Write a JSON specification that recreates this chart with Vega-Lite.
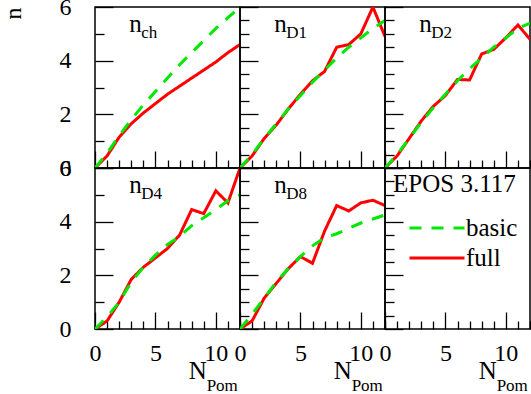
{
  "$schema": "https://vega.github.io/schema/vega-lite/v6.json",
  "padding": {"left": 0, "top": -6, "right": 0, "bottom": 0},
  "bounds": "flush",
  "datasets": {
    "curves": [
      {"panel":"ch","model":"full","x":0,"n":0},{"panel":"ch","model":"full","x":1,"n":0.45},{"panel":"ch","model":"full","x":2,"n":1.15},{"panel":"ch","model":"full","x":3,"n":1.65},{"panel":"ch","model":"full","x":4,"n":2.05},{"panel":"ch","model":"full","x":5,"n":2.4},{"panel":"ch","model":"full","x":6,"n":2.75},{"panel":"ch","model":"full","x":7,"n":3.05},{"panel":"ch","model":"full","x":8,"n":3.35},{"panel":"ch","model":"full","x":9,"n":3.65},{"panel":"ch","model":"full","x":10,"n":3.95},{"panel":"ch","model":"full","x":11,"n":4.3},{"panel":"ch","model":"full","x":12,"n":4.6},
      {"panel":"ch","model":"basic","x":0,"n":0},{"panel":"ch","model":"basic","x":1,"n":0.55},{"panel":"ch","model":"basic","x":2,"n":1.2},{"panel":"ch","model":"basic","x":3,"n":1.8},{"panel":"ch","model":"basic","x":4,"n":2.35},{"panel":"ch","model":"basic","x":5,"n":2.85},{"panel":"ch","model":"basic","x":6,"n":3.35},{"panel":"ch","model":"basic","x":7,"n":3.85},{"panel":"ch","model":"basic","x":8,"n":4.3},{"panel":"ch","model":"basic","x":9,"n":4.75},{"panel":"ch","model":"basic","x":10,"n":5.2},{"panel":"ch","model":"basic","x":11,"n":5.6},{"panel":"ch","model":"basic","x":12,"n":6.0},
      {"panel":"D1","model":"full","x":0,"n":0},{"panel":"D1","model":"full","x":1,"n":0.45},{"panel":"D1","model":"full","x":2,"n":1.1},{"panel":"D1","model":"full","x":3,"n":1.6},{"panel":"D1","model":"full","x":4,"n":2.2},{"panel":"D1","model":"full","x":5,"n":2.75},{"panel":"D1","model":"full","x":6,"n":3.25},{"panel":"D1","model":"full","x":7,"n":3.6},{"panel":"D1","model":"full","x":8,"n":4.5},{"panel":"D1","model":"full","x":9,"n":4.6},{"panel":"D1","model":"full","x":10,"n":5.0},{"panel":"D1","model":"full","x":11,"n":6.0},{"panel":"D1","model":"full","x":12,"n":4.9},
      {"panel":"D1","model":"basic","x":0,"n":0},{"panel":"D1","model":"basic","x":1,"n":0.5},{"panel":"D1","model":"basic","x":2,"n":1.1},{"panel":"D1","model":"basic","x":3,"n":1.65},{"panel":"D1","model":"basic","x":4,"n":2.2},{"panel":"D1","model":"basic","x":5,"n":2.7},{"panel":"D1","model":"basic","x":6,"n":3.2},{"panel":"D1","model":"basic","x":7,"n":3.65},{"panel":"D1","model":"basic","x":8,"n":4.1},{"panel":"D1","model":"basic","x":9,"n":4.5},{"panel":"D1","model":"basic","x":10,"n":4.85},{"panel":"D1","model":"basic","x":11,"n":5.2},{"panel":"D1","model":"basic","x":12,"n":5.5},
      {"panel":"D2","model":"full","x":0,"n":0},{"panel":"D2","model":"full","x":1,"n":0.45},{"panel":"D2","model":"full","x":2,"n":1.1},{"panel":"D2","model":"full","x":3,"n":1.75},{"panel":"D2","model":"full","x":4,"n":2.3},{"panel":"D2","model":"full","x":5,"n":2.7},{"panel":"D2","model":"full","x":6,"n":3.3},{"panel":"D2","model":"full","x":7,"n":3.28},{"panel":"D2","model":"full","x":8,"n":4.25},{"panel":"D2","model":"full","x":9,"n":4.42},{"panel":"D2","model":"full","x":10,"n":4.85},{"panel":"D2","model":"full","x":11,"n":5.33},{"panel":"D2","model":"full","x":12,"n":4.8},
      {"panel":"D2","model":"basic","x":0,"n":0},{"panel":"D2","model":"basic","x":1,"n":0.5},{"panel":"D2","model":"basic","x":2,"n":1.1},{"panel":"D2","model":"basic","x":3,"n":1.7},{"panel":"D2","model":"basic","x":4,"n":2.25},{"panel":"D2","model":"basic","x":5,"n":2.75},{"panel":"D2","model":"basic","x":6,"n":3.25},{"panel":"D2","model":"basic","x":7,"n":3.7},{"panel":"D2","model":"basic","x":8,"n":4.1},{"panel":"D2","model":"basic","x":9,"n":4.5},{"panel":"D2","model":"basic","x":10,"n":4.85},{"panel":"D2","model":"basic","x":11,"n":5.2},{"panel":"D2","model":"basic","x":12,"n":5.4},
      {"panel":"D4","model":"full","x":0,"n":0},{"panel":"D4","model":"full","x":1,"n":0.3},{"panel":"D4","model":"full","x":2,"n":1.0},{"panel":"D4","model":"full","x":3,"n":1.85},{"panel":"D4","model":"full","x":4,"n":2.3},{"panel":"D4","model":"full","x":5,"n":2.65},{"panel":"D4","model":"full","x":6,"n":3.0},{"panel":"D4","model":"full","x":7,"n":3.5},{"panel":"D4","model":"full","x":8,"n":4.45},{"panel":"D4","model":"full","x":9,"n":4.3},{"panel":"D4","model":"full","x":10,"n":5.15},{"panel":"D4","model":"full","x":11,"n":4.7},{"panel":"D4","model":"full","x":12,"n":6.0},
      {"panel":"D4","model":"basic","x":0,"n":0},{"panel":"D4","model":"basic","x":1,"n":0.45},{"panel":"D4","model":"basic","x":2,"n":1.0},{"panel":"D4","model":"basic","x":3,"n":1.75},{"panel":"D4","model":"basic","x":4,"n":2.3},{"panel":"D4","model":"basic","x":5,"n":2.75},{"panel":"D4","model":"basic","x":6,"n":3.15},{"panel":"D4","model":"basic","x":7,"n":3.45},{"panel":"D4","model":"basic","x":8,"n":3.85},{"panel":"D4","model":"basic","x":9,"n":4.15},{"panel":"D4","model":"basic","x":10,"n":4.45},{"panel":"D4","model":"basic","x":11,"n":4.78},{"panel":"D4","model":"basic","x":12,"n":5.0},
      {"panel":"D8","model":"full","x":0,"n":0},{"panel":"D8","model":"full","x":1,"n":0.3},{"panel":"D8","model":"full","x":2,"n":1.15},{"panel":"D8","model":"full","x":3,"n":1.7},{"panel":"D8","model":"full","x":4,"n":2.25},{"panel":"D8","model":"full","x":5,"n":2.7},{"panel":"D8","model":"full","x":6,"n":2.45},{"panel":"D8","model":"full","x":7,"n":3.65},{"panel":"D8","model":"full","x":8,"n":4.6},{"panel":"D8","model":"full","x":9,"n":4.4},{"panel":"D8","model":"full","x":10,"n":4.7},{"panel":"D8","model":"full","x":11,"n":4.8},{"panel":"D8","model":"full","x":12,"n":4.6},
      {"panel":"D8","model":"basic","x":0,"n":0},{"panel":"D8","model":"basic","x":1,"n":0.55},{"panel":"D8","model":"basic","x":2,"n":1.15},{"panel":"D8","model":"basic","x":3,"n":1.75},{"panel":"D8","model":"basic","x":4,"n":2.25},{"panel":"D8","model":"basic","x":5,"n":2.7},{"panel":"D8","model":"basic","x":6,"n":3.1},{"panel":"D8","model":"basic","x":7,"n":3.4},{"panel":"D8","model":"basic","x":8,"n":3.55},{"panel":"D8","model":"basic","x":9,"n":3.75},{"panel":"D8","model":"basic","x":10,"n":3.95},{"panel":"D8","model":"basic","x":11,"n":4.1},{"panel":"D8","model":"basic","x":12,"n":4.25}
    ],
    "labels": [
      {"panel":"ch","main":"n","sub":"ch"},
      {"panel":"D1","main":"n","sub":"D1"},
      {"panel":"D2","main":"n","sub":"D2"},
      {"panel":"D4","main":"n","sub":"D4"},
      {"panel":"D8","main":"n","sub":"D8"}
    ],
    "xtitle": [{"main":"N","sub":"Pom"}]
  },
  "columns": 3,
  "spacing": 0,
  "concat": [
    {
      "width": 145, "height": 161,
      "resolve": {"axis": {"x": "independent", "y": "independent"}},
      "layer": [
        {"data": {"name": "curves"}, "transform": [{"filter": "datum.panel === 'ch'"}],
         "mark": {"type": "line", "strokeWidth": 3, "clip": true},
         "encoding": {
           "x": {"field": "x", "type": "quantitative", "scale": {"domain": [0, 12]}, "axis": {"title": null, "labels": false, "domain": false, "grid": false, "values": [0,1,2,3,4,5,6,7,8,9,10,11,12], "tickColor": "black", "tickWidth": 1.3, "tickSize": {"condition": {"test": "datum.value % 5 === 0", "value": -17}, "value": -8}}},
           "y": {"field": "n", "type": "quantitative", "scale": {"domain": [0, 6]}, "axis": {"title": "n", "titleFont": "Liberation Serif", "titleFontSize": 24, "titleFontWeight": "normal", "titleColor": "black", "titleAnchor": "end", "titlePadding": 34, "domain": false, "grid": false, "values": [0,0.5,1,1.5,2,2.5,3,3.5,4,4.5,5,5.5,6], "format": "d", "tickColor": "black", "tickWidth": 1.3, "tickSize": {"condition": {"test": "datum.value % 2 === 0", "value": -18}, "value": -9}, "labelExpr": "datum.value % 2 === 0 ? datum.label : ''", "labelFont": "Liberation Serif", "labelFontSize": 24, "labelColor": "black", "labelPadding": 42, "labelOverlap": false, "labelFlush": false}},
           "color": {"field": "model", "type": "nominal", "title": "EPOS 3.117", "scale": {"domain": ["basic", "full"], "range": ["#00e800", "#ff0000"]}},
           "strokeDash": {"field": "model", "type": "nominal", "title": "EPOS 3.117", "scale": {"domain": ["basic", "full"], "range": [[12, 10], [1, 0]]}}
         }},
        {"data": {"name": "labels"}, "transform": [{"filter": "datum.panel === 'ch'"}],
         "mark": {"type": "text", "align": "left", "baseline": "alphabetic", "font": "Liberation Serif", "fontSize": 25, "color": "black"},
         "encoding": {"x": {"datum": 2.83, "axis": null}, "y": {"datum": 5.05, "axis": null}, "text": {"field": "main"}}},
        {"data": {"name": "labels"}, "transform": [{"filter": "datum.panel === 'ch'"}],
         "mark": {"type": "text", "align": "left", "baseline": "alphabetic", "font": "Liberation Serif", "fontSize": 17, "color": "black", "dx": 12, "dy": 6},
         "encoding": {"x": {"datum": 2.83, "axis": null}, "y": {"datum": 5.05, "axis": null}, "text": {"field": "sub"}}}
      ]
    },
    {
      "width": 145, "height": 161,
      "resolve": {"axis": {"x": "independent", "y": "independent"}},
      "layer": [
        {"data": {"name": "curves"}, "transform": [{"filter": "datum.panel === 'D1'"}],
         "mark": {"type": "line", "strokeWidth": 3, "clip": true},
         "encoding": {
           "x": {"field": "x", "type": "quantitative", "scale": {"domain": [0, 12]}, "axis": {"title": null, "labels": false, "domain": false, "grid": false, "values": [0,1,2,3,4,5,6,7,8,9,10,11,12], "tickColor": "black", "tickWidth": 1.3, "tickSize": {"condition": {"test": "datum.value % 5 === 0", "value": -17}, "value": -8}}},
           "y": {"field": "n", "type": "quantitative", "scale": {"domain": [0, 6]}, "axis": {"title": null, "labels": false, "domain": false, "grid": false, "values": [0,0.5,1,1.5,2,2.5,3,3.5,4,4.5,5,5.5,6], "tickColor": "black", "tickWidth": 1.3, "tickSize": {"condition": {"test": "datum.value % 2 === 0", "value": -18}, "value": -9}}},
           "color": {"field": "model", "type": "nominal", "title": "EPOS 3.117", "scale": {"domain": ["basic", "full"], "range": ["#00e800", "#ff0000"]}},
           "strokeDash": {"field": "model", "type": "nominal", "title": "EPOS 3.117", "scale": {"domain": ["basic", "full"], "range": [[12, 10], [1, 0]]}}
         }},
        {"data": {"name": "labels"}, "transform": [{"filter": "datum.panel === 'D1'"}],
         "mark": {"type": "text", "align": "left", "baseline": "alphabetic", "font": "Liberation Serif", "fontSize": 25, "color": "black"},
         "encoding": {"x": {"datum": 2.83, "axis": null}, "y": {"datum": 5.05, "axis": null}, "text": {"field": "main"}}},
        {"data": {"name": "labels"}, "transform": [{"filter": "datum.panel === 'D1'"}],
         "mark": {"type": "text", "align": "left", "baseline": "alphabetic", "font": "Liberation Serif", "fontSize": 17, "color": "black", "dx": 12, "dy": 6},
         "encoding": {"x": {"datum": 2.83, "axis": null}, "y": {"datum": 5.05, "axis": null}, "text": {"field": "sub"}}}
      ]
    },
    {
      "width": 145, "height": 161,
      "resolve": {"axis": {"x": "independent", "y": "independent"}},
      "layer": [
        {"data": {"name": "curves"}, "transform": [{"filter": "datum.panel === 'D2'"}],
         "mark": {"type": "line", "strokeWidth": 3, "clip": true},
         "encoding": {
           "x": {"field": "x", "type": "quantitative", "scale": {"domain": [0, 12]}, "axis": {"title": null, "labels": false, "domain": false, "grid": false, "values": [0,1,2,3,4,5,6,7,8,9,10,11,12], "tickColor": "black", "tickWidth": 1.3, "tickSize": {"condition": {"test": "datum.value % 5 === 0", "value": -17}, "value": -8}}},
           "y": {"field": "n", "type": "quantitative", "scale": {"domain": [0, 6]}, "axis": {"title": null, "labels": false, "domain": false, "grid": false, "values": [0,0.5,1,1.5,2,2.5,3,3.5,4,4.5,5,5.5,6], "tickColor": "black", "tickWidth": 1.3, "tickSize": {"condition": {"test": "datum.value % 2 === 0", "value": -18}, "value": -9}}},
           "color": {"field": "model", "type": "nominal", "title": "EPOS 3.117", "scale": {"domain": ["basic", "full"], "range": ["#00e800", "#ff0000"]}},
           "strokeDash": {"field": "model", "type": "nominal", "title": "EPOS 3.117", "scale": {"domain": ["basic", "full"], "range": [[12, 10], [1, 0]]}}
         }},
        {"data": {"name": "labels"}, "transform": [{"filter": "datum.panel === 'D2'"}],
         "mark": {"type": "text", "align": "left", "baseline": "alphabetic", "font": "Liberation Serif", "fontSize": 25, "color": "black"},
         "encoding": {"x": {"datum": 2.83, "axis": null}, "y": {"datum": 5.05, "axis": null}, "text": {"field": "main"}}},
        {"data": {"name": "labels"}, "transform": [{"filter": "datum.panel === 'D2'"}],
         "mark": {"type": "text", "align": "left", "baseline": "alphabetic", "font": "Liberation Serif", "fontSize": 17, "color": "black", "dx": 12, "dy": 6},
         "encoding": {"x": {"datum": 2.83, "axis": null}, "y": {"datum": 5.05, "axis": null}, "text": {"field": "sub"}}}
      ]
    },
    {
      "width": 145, "height": 161,
      "resolve": {"axis": {"x": "independent", "y": "independent"}},
      "layer": [
        {"data": {"name": "curves"}, "transform": [{"filter": "datum.panel === 'D4'"}],
         "mark": {"type": "line", "strokeWidth": 3, "clip": true},
         "encoding": {
           "x": {"field": "x", "type": "quantitative", "scale": {"domain": [0, 12]}, "axis": {"title": null, "domain": false, "grid": false, "values": [0,1,2,3,4,5,6,7,8,9,10,11,12], "format": "d", "tickColor": "black", "tickWidth": 1.3, "tickSize": {"condition": {"test": "datum.value % 5 === 0", "value": -17}, "value": -8}, "labelExpr": "datum.value % 5 === 0 ? datum.label : ''", "labelFont": "Liberation Serif", "labelFontSize": 24, "labelColor": "black", "labelPadding": 29, "labelOverlap": false, "labelFlush": false}},
           "y": {"field": "n", "type": "quantitative", "scale": {"domain": [0, 6]}, "axis": {"title": null, "domain": false, "grid": false, "values": [0,0.5,1,1.5,2,2.5,3,3.5,4,4.5,5,5.5,6], "format": "d", "tickColor": "black", "tickWidth": 1.3, "tickSize": {"condition": {"test": "datum.value % 2 === 0", "value": -18}, "value": -9}, "labelExpr": "datum.value % 2 === 0 ? datum.label : ''", "labelFont": "Liberation Serif", "labelFontSize": 24, "labelColor": "black", "labelPadding": 42, "labelOverlap": false, "labelFlush": false}},
           "color": {"field": "model", "type": "nominal", "title": "EPOS 3.117", "scale": {"domain": ["basic", "full"], "range": ["#00e800", "#ff0000"]}},
           "strokeDash": {"field": "model", "type": "nominal", "title": "EPOS 3.117", "scale": {"domain": ["basic", "full"], "range": [[12, 10], [1, 0]]}}
         }},
        {"data": {"name": "labels"}, "transform": [{"filter": "datum.panel === 'D4'"}],
         "mark": {"type": "text", "align": "left", "baseline": "alphabetic", "font": "Liberation Serif", "fontSize": 25, "color": "black"},
         "encoding": {"x": {"datum": 2.83, "axis": null}, "y": {"datum": 5.05, "axis": null}, "text": {"field": "main"}}},
        {"data": {"name": "labels"}, "transform": [{"filter": "datum.panel === 'D4'"}],
         "mark": {"type": "text", "align": "left", "baseline": "alphabetic", "font": "Liberation Serif", "fontSize": 17, "color": "black", "dx": 12, "dy": 6},
         "encoding": {"x": {"datum": 2.83, "axis": null}, "y": {"datum": 5.05, "axis": null}, "text": {"field": "sub"}}},
        {"data": {"name": "xtitle"},
         "mark": {"type": "text", "align": "left", "baseline": "alphabetic", "font": "Liberation Serif", "fontSize": 25, "color": "black"},
         "encoding": {"x": {"datum": 7.75, "axis": null}, "y": {"datum": -1.86, "axis": null}, "text": {"field": "main"}}},
        {"data": {"name": "xtitle"},
         "mark": {"type": "text", "align": "left", "baseline": "alphabetic", "font": "Liberation Serif", "fontSize": 17, "color": "black", "dx": 18, "dy": 12},
         "encoding": {"x": {"datum": 7.75, "axis": null}, "y": {"datum": -1.86, "axis": null}, "text": {"field": "sub"}}}
      ]
    },
    {
      "width": 145, "height": 161,
      "resolve": {"axis": {"x": "independent", "y": "independent"}},
      "layer": [
        {"data": {"name": "curves"}, "transform": [{"filter": "datum.panel === 'D8'"}],
         "mark": {"type": "line", "strokeWidth": 3, "clip": true},
         "encoding": {
           "x": {"field": "x", "type": "quantitative", "scale": {"domain": [0, 12]}, "axis": {"title": null, "domain": false, "grid": false, "values": [0,1,2,3,4,5,6,7,8,9,10,11,12], "format": "d", "tickColor": "black", "tickWidth": 1.3, "tickSize": {"condition": {"test": "datum.value % 5 === 0", "value": -17}, "value": -8}, "labelExpr": "datum.value % 5 === 0 ? datum.label : ''", "labelFont": "Liberation Serif", "labelFontSize": 24, "labelColor": "black", "labelPadding": 29, "labelOverlap": false, "labelFlush": false}},
           "y": {"field": "n", "type": "quantitative", "scale": {"domain": [0, 6]}, "axis": {"title": null, "labels": false, "domain": false, "grid": false, "values": [0,0.5,1,1.5,2,2.5,3,3.5,4,4.5,5,5.5,6], "tickColor": "black", "tickWidth": 1.3, "tickSize": {"condition": {"test": "datum.value % 2 === 0", "value": -18}, "value": -9}}},
           "color": {"field": "model", "type": "nominal", "title": "EPOS 3.117", "scale": {"domain": ["basic", "full"], "range": ["#00e800", "#ff0000"]}},
           "strokeDash": {"field": "model", "type": "nominal", "title": "EPOS 3.117", "scale": {"domain": ["basic", "full"], "range": [[12, 10], [1, 0]]}}
         }},
        {"data": {"name": "labels"}, "transform": [{"filter": "datum.panel === 'D8'"}],
         "mark": {"type": "text", "align": "left", "baseline": "alphabetic", "font": "Liberation Serif", "fontSize": 25, "color": "black"},
         "encoding": {"x": {"datum": 2.83, "axis": null}, "y": {"datum": 5.05, "axis": null}, "text": {"field": "main"}}},
        {"data": {"name": "labels"}, "transform": [{"filter": "datum.panel === 'D8'"}],
         "mark": {"type": "text", "align": "left", "baseline": "alphabetic", "font": "Liberation Serif", "fontSize": 17, "color": "black", "dx": 12, "dy": 6},
         "encoding": {"x": {"datum": 2.83, "axis": null}, "y": {"datum": 5.05, "axis": null}, "text": {"field": "sub"}}},
        {"data": {"name": "xtitle"},
         "mark": {"type": "text", "align": "left", "baseline": "alphabetic", "font": "Liberation Serif", "fontSize": 25, "color": "black"},
         "encoding": {"x": {"datum": 7.75, "axis": null}, "y": {"datum": -1.86, "axis": null}, "text": {"field": "main"}}},
        {"data": {"name": "xtitle"},
         "mark": {"type": "text", "align": "left", "baseline": "alphabetic", "font": "Liberation Serif", "fontSize": 17, "color": "black", "dx": 18, "dy": 12},
         "encoding": {"x": {"datum": 7.75, "axis": null}, "y": {"datum": -1.86, "axis": null}, "text": {"field": "sub"}}}
      ]
    },
    {
      "width": 145, "height": 161,
      "resolve": {"axis": {"x": "independent", "y": "independent"}},
      "layer": [
        {"data": {"name": "curves"}, "transform": [{"filter": "datum.panel === 'none'"}],
         "mark": {"type": "line", "strokeWidth": 3, "clip": true},
         "encoding": {
           "x": {"field": "x", "type": "quantitative", "scale": {"domain": [0, 12]}, "axis": {"title": null, "domain": false, "grid": false, "values": [0,1,2,3,4,5,6,7,8,9,10,11,12], "format": "d", "tickColor": "black", "tickWidth": 1.3, "tickSize": {"condition": {"test": "datum.value % 5 === 0", "value": -17}, "value": -8}, "labelExpr": "datum.value % 5 === 0 ? datum.label : ''", "labelFont": "Liberation Serif", "labelFontSize": 24, "labelColor": "black", "labelPadding": 29, "labelOverlap": false, "labelFlush": false}},
           "y": {"field": "n", "type": "quantitative", "scale": {"domain": [0, 6]}, "axis": {"title": null, "labels": false, "domain": false, "grid": false, "values": [0,0.5,1,1.5,2,2.5,3,3.5,4,4.5,5,5.5,6], "tickColor": "black", "tickWidth": 1.3, "tickSize": {"condition": {"test": "datum.value % 2 === 0", "value": -18}, "value": -9}}},
           "color": {"field": "model", "type": "nominal", "title": "EPOS 3.117", "scale": {"domain": ["basic", "full"], "range": ["#00e800", "#ff0000"]}},
           "strokeDash": {"field": "model", "type": "nominal", "title": "EPOS 3.117", "scale": {"domain": ["basic", "full"], "range": [[12, 10], [1, 0]]}}
         }},
        {"data": {"name": "xtitle"},
         "mark": {"type": "text", "align": "left", "baseline": "alphabetic", "font": "Liberation Serif", "fontSize": 25, "color": "black"},
         "encoding": {"x": {"datum": 7.75, "axis": null}, "y": {"datum": -1.86, "axis": null}, "text": {"field": "main"}}},
        {"data": {"name": "xtitle"},
         "mark": {"type": "text", "align": "left", "baseline": "alphabetic", "font": "Liberation Serif", "fontSize": 17, "color": "black", "dx": 18, "dy": 12},
         "encoding": {"x": {"datum": 7.75, "axis": null}, "y": {"datum": -1.86, "axis": null}, "text": {"field": "sub"}}}
      ]
    }
  ],
  "config": {
    "font": "Liberation Serif",
    "style": {"guide-label": {"font": "Liberation Serif"}, "guide-title": {"font": "Liberation Serif"}},
    "view": {"stroke": "black", "strokeWidth": 1.5},
    "concat": {"spacing": 0},
    "legend": {
      "orient": "none", "legendX": 298, "legendY": 165,
      "titleFont": "Liberation Serif", "titleFontSize": 25, "titleFontWeight": "normal", "titleColor": "black",
      "labelFont": "Liberation Serif", "labelFontSize": 25, "labelColor": "black",
      "symbolSize": 3025, "symbolStrokeWidth": 3, "symbolType": "stroke",
      "symbolOffset": 15, "labelOffset": 0, "titlePadding": 16, "rowPadding": 0, "clipHeight": 30, "padding": 0
    }
  }
}
